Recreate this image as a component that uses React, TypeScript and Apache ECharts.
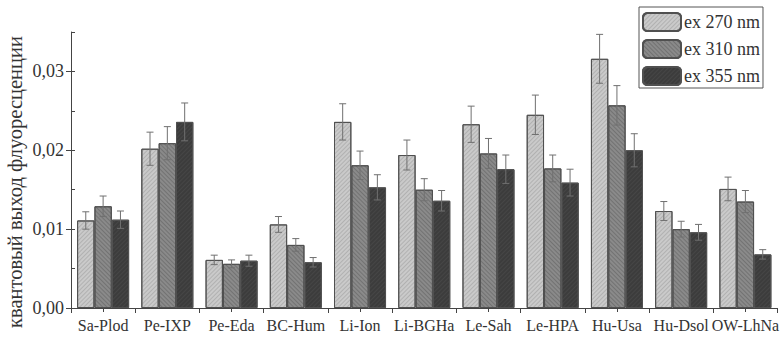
import React, { useEffect, useRef } from "react";
import * as echarts from "echarts";

const categories = ["Sa-Plod", "Pe-IXP", "Pe-Eda", "BC-Hum", "Li-Ion", "Li-BGHa", "Le-Sah", "Le-HPA", "Hu-Usa", "Hu-Dsol", "OW-LhNa"];
const seriesNames = ["ex 270 nm", "ex 310 nm", "ex 355 nm"];
const ex270 = [0.0111, 0.0202, 0.0061, 0.0106, 0.0236, 0.0194, 0.0233, 0.0245, 0.0316, 0.0123, 0.0151];
const ex310 = [0.0129, 0.0209, 0.0056, 0.0080, 0.0181, 0.0150, 0.0196, 0.0177, 0.0257, 0.0100, 0.0135];
const ex355 = [0.0112, 0.0236, 0.0060, 0.0058, 0.0153, 0.0136, 0.0176, 0.0159, 0.0200, 0.0096, 0.0068];
const err270 = [0.0011, 0.0021, 0.0006, 0.0010, 0.0023, 0.0019, 0.0023, 0.0025, 0.0031, 0.0012, 0.0015];
const err310 = [0.0013, 0.0021, 0.0005, 0.0008, 0.0018, 0.0014, 0.0019, 0.0017, 0.0025, 0.0010, 0.0014];
const err355 = [0.0011, 0.0024, 0.0007, 0.0006, 0.0016, 0.0013, 0.0018, 0.0017, 0.0021, 0.0010, 0.0006];
const yTicks = [0, 0.01, 0.02, 0.03];
const yTitle = "квантовый выход флуоресценции";

const values = [ex270, ex310, ex355];
const errors = [err270, err310, err355];
const fills = ["#cacaca", "#8a8a8a", "#3c3c3c"];
const hatch = ["rgba(120,120,120,0.3)", "rgba(60,60,60,0.3)", "rgba(100,100,100,0.25)"];
const rotations = [-Math.PI / 4, Math.PI / 4, -Math.PI / 4];
const GAP = 0.19;
const FONT = "'Liberation Serif', 'Times New Roman', Times, serif";

export default function App() {
  const ref = useRef<HTMLDivElement>(null);
  useEffect(() => {
    if (!ref.current) return;
    const chart = echarts.init(ref.current, null, { renderer: "svg" });
    const barSeries = values.map((vals, i) => ({
      name: seriesNames[i],
      type: "bar",
      xAxisIndex: 0,
      yAxisIndex: 0,
      data: vals,
      barGap: "0%",
      barCategoryGap: GAP * 100 + "%",
      itemStyle: {
        color: fills[i],
        borderColor: "#505050",
        borderWidth: 1,
        decal: {
          symbol: "rect",
          symbolSize: 1,
          dashArrayX: [1, 0],
          dashArrayY: [1, 2],
          rotation: rotations[i],
          color: hatch[i],
        },
      },
      emphasis: { disabled: true },
    }));
    const errSeries = values.map((vals, i) => ({
      type: "custom",
      xAxisIndex: 0,
      yAxisIndex: 0,
      z: 5,
      silent: true,
      encode: { x: 0, y: 1 },
      data: vals.map((v, k) => [k, v, errors[i][k]]),
      renderItem: (params: any, api: any) => {
        const c = api.value(0);
        const v = api.value(1);
        const e = api.value(2);
        const catW = api.size([1, 0])[0];
        const bw = (catW * (1 - GAP)) / 3;
        const off = (-catW * (1 - GAP)) / 2 + bw * (i + 0.5);
        const x = api.coord([c, v])[0] + off;
        const yt = api.coord([c, v + e])[1];
        const yb = api.coord([c, v - e])[1];
        const st = { stroke: "#707070", lineWidth: 1 };
        return {
          type: "group",
          children: [
            { type: "line", shape: { x1: x, y1: yt, x2: x, y2: yb }, style: st },
            { type: "line", shape: { x1: x - 3.5, y1: yt, x2: x + 3.5, y2: yt }, style: st },
            { type: "line", shape: { x1: x - 3.5, y1: yb, x2: x + 3.5, y2: yb }, style: st },
          ],
        };
      },
    }));
    chart.setOption({
      animation: false,
      backgroundColor: "#ffffff",
      grid: { left: 71, right: 1, top: 32, bottom: 34 },
      legend: {
        orient: "vertical",
        left: 639,
        top: 7,
        data: seriesNames,
        itemWidth: 38,
        itemHeight: 18,
        itemGap: 7,
        padding: [5, 3, 2, 3],
        borderColor: "#555",
        borderWidth: 1,
        textStyle: { fontFamily: FONT, fontSize: 18, color: "#333", padding: [0, 0, 0, -2] },
        selectedMode: false,
      },
      xAxis: [
        {
          type: "category",
          data: categories,
          axisLine: { lineStyle: { color: "#444", width: 1 } },
          axisTick: { show: true, length: 5, lineStyle: { color: "#444" } },
          axisLabel: { fontFamily: FONT, fontSize: 16, color: "#333", margin: 9, interval: 0 },
        },
        {
          type: "category",
          data: categories,
          position: "bottom",
          axisLine: { show: false },
          axisTick: { show: true, alignWithLabel: true, length: 4, lineStyle: { color: "#444" } },
          axisLabel: { show: false },
        },
      ],
      yAxis: [
        {
          type: "value",
          min: 0,
          max: 0.035,
          interval: 0.01,
          splitLine: { show: false },
          axisLine: { show: true, lineStyle: { color: "#444", width: 1 } },
          axisTick: { show: true, length: 5, lineStyle: { color: "#444" } },
          axisLabel: {
            fontFamily: FONT,
            fontSize: 18,
            color: "#333",
            margin: 7,
            showMaxLabel: false,
            formatter: (v: number) => (yTicks.some((t) => Math.abs(t - v) < 1e-9) ? v.toFixed(2).replace(".", ",") : ""),
          },
        },
        {
          type: "value",
          min: 0,
          max: 0.035,
          interval: 0.005,
          position: "left",
          splitLine: { show: false },
          axisLine: { show: false },
          axisTick: { show: true, inside: true, length: 4, lineStyle: { color: "#444" } },
          axisLabel: { show: false },
        },
      ],
      graphic: [
        {
          type: "text",
          x: 15,
          y: 182,
          rotation: Math.PI / 2,
          style: {
            text: yTitle,
            fontFamily: FONT,
            fontSize: 20.5,
            fill: "#333",
            textAlign: "center",
            textVerticalAlign: "middle",
          },
        },
      ],
      series: [...barSeries, ...errSeries],
    });
    return () => chart.dispose();
  }, []);
  return <div ref={ref} style={{ position: "fixed", left: 0, top: 0, width: 782, height: 342 }} />;
}
